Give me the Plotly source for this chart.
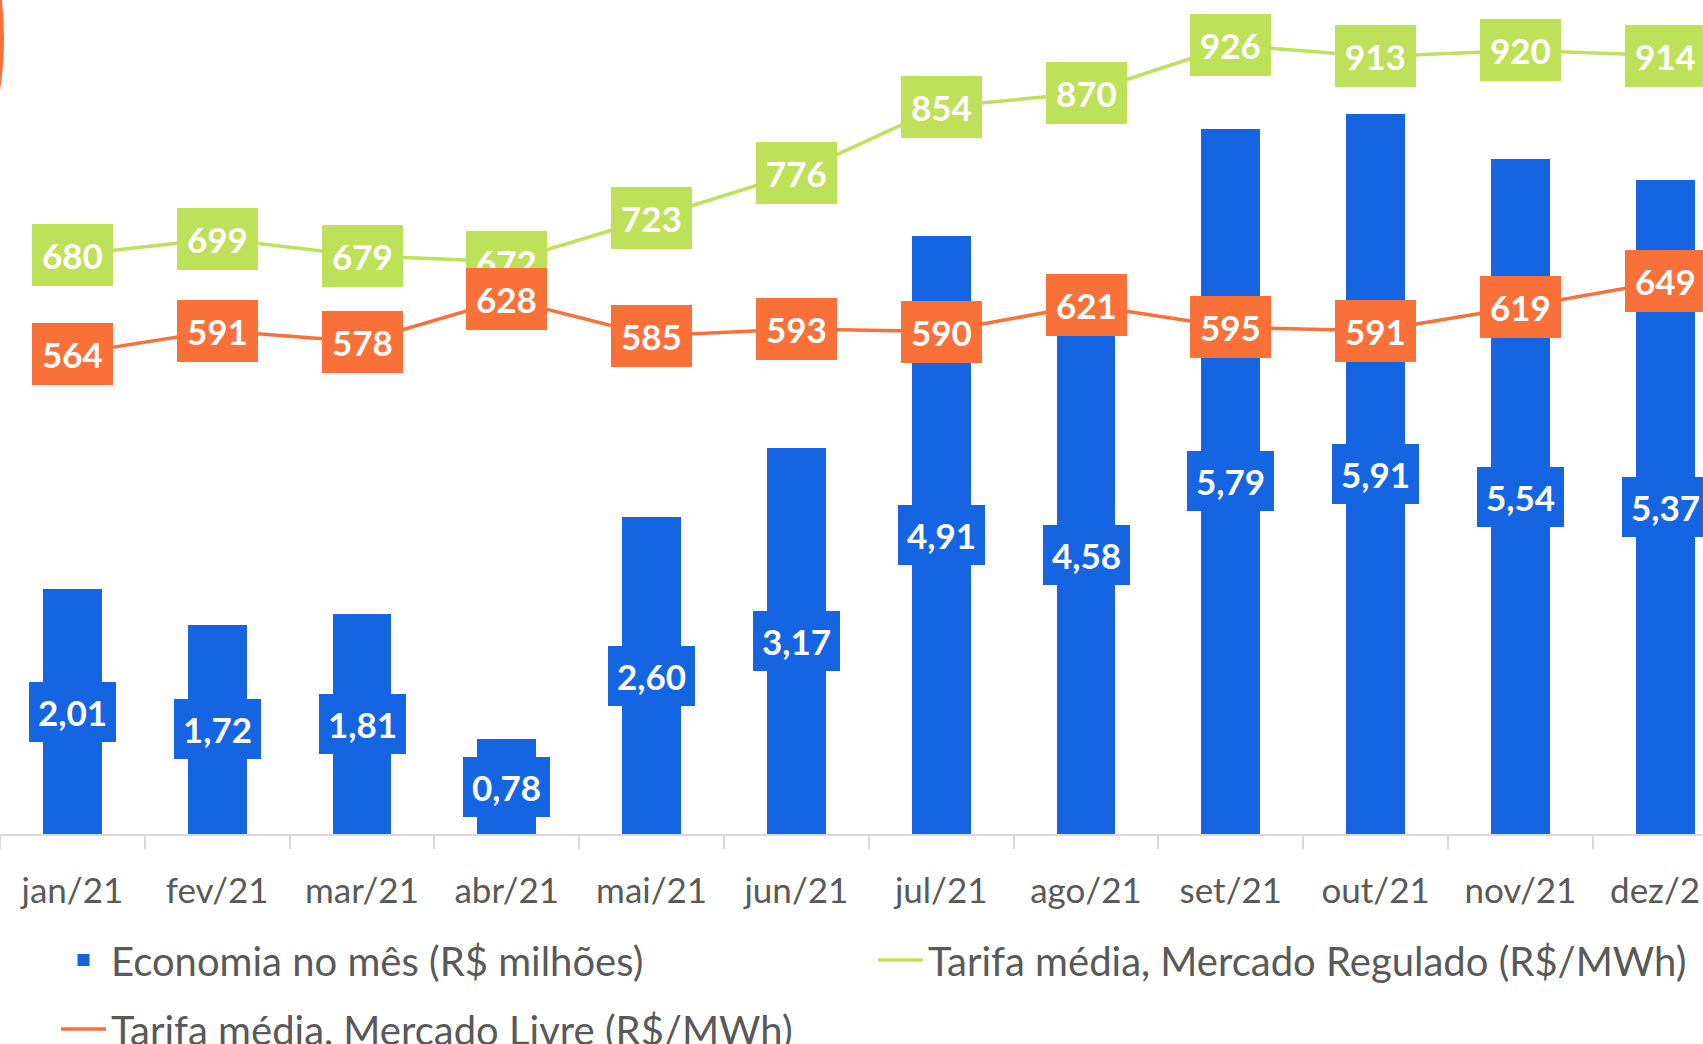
import plotly.graph_objects as go

months = ["jan/21", "fev/21", "mar/21", "abr/21", "mai/21", "jun/21",
          "jul/21", "ago/21", "set/21", "out/21", "nov/21", "dez/21"]
economia = [2.01, 1.72, 1.81, 0.78, 2.60, 3.17, 4.91, 4.58, 5.79, 5.91, 5.54, 5.37]
regulado = [680, 699, 679, 672, 723, 776, 854, 870, 926, 913, 920, 914]
livre = [564, 591, 578, 628, 585, 593, 590, 621, 595, 591, 619, 649]

BLUE = "#1565E3"
GREEN = "#BDE25A"
ORANGE = "#F97038"
GRAY = "#595959"
W, H = 1703, 1044
PLOT_H = 834
CAT_W = 144.8

fig = go.Figure()
fig.add_trace(go.Bar(
    x=months, y=economia, name="Economia no mês (R$ milhões)",
    marker=dict(color=BLUE, line=dict(width=0)), width=0.405,
    yaxis="y", legend="legend",
))
fig.add_trace(go.Scatter(
    x=months, y=regulado, name="Tarifa média, Mercado Regulado (R$/MWh)",
    mode="lines", line=dict(color=GREEN, width=3.5), yaxis="y2", legend="legend2",
))
fig.add_trace(go.Scatter(
    x=months, y=livre, name="Tarifa média, Mercado Livre (R$/MWh)",
    mode="lines", line=dict(color=ORANGE, width=3.5), yaxis="y2", legend="legend3",
))

LABEL_FONT = dict(family="Lato, sans-serif", size=35, color="white", weight="bold")
annotations = []
for m, v in zip(months, economia):
    annotations.append(dict(
        x=m, y=v / 2, xref="x", yref="y", text=f"{v:.2f}".replace(".", ","),
        showarrow=False, bgcolor=BLUE, borderpad=9, borderwidth=0, font=LABEL_FONT,
    ))
for m, v in zip(months, regulado):
    annotations.append(dict(
        x=m, y=v, xref="x", yref="y2", text=str(v),
        showarrow=False, bgcolor=GREEN, borderpad=10, borderwidth=0, font=LABEL_FONT,
    ))
for m, v in zip(months, livre):
    annotations.append(dict(
        x=m, y=v, xref="x", yref="y2", text=str(v),
        showarrow=False, bgcolor=ORANGE, borderpad=10, borderwidth=0, font=LABEL_FONT,
    ))

legend_common = dict(
    orientation="h", xanchor="left", yanchor="middle", bgcolor="rgba(0,0,0,0)",
    font=dict(family="Lato, sans-serif", size=40, color=GRAY), itemwidth=45,
)

fig.update_layout(
    width=W, height=H,
    margin=dict(l=0, r=0, t=0, b=H - PLOT_H, pad=0, autoexpand=False),
    plot_bgcolor="white", paper_bgcolor="white",
    bargap=0, barmode="overlay",
    xaxis=dict(
        type="category", range=[-0.5, -0.5 + W / CAT_W],
        showline=True, linecolor="#D9D9D9", linewidth=1.5,
        ticks="outside", tickson="boundaries", ticklen=13, tickcolor="#D9D9D9", tickwidth=1.5,
        tickfont=dict(family="Lato, sans-serif", size=35, color=GRAY),
        ticklabelstandoff=25, showgrid=False, zeroline=False, automargin=False,
    ),
    yaxis=dict(range=[0, PLOT_H / 121.8], visible=False, showgrid=False),
    yaxis2=dict(range=[0, PLOT_H / 0.8517], overlaying="y", side="right",
                visible=False, showgrid=False),
    legend=dict(legend_common, x=56 / W, y=-(960 - PLOT_H) / PLOT_H),
    legend2=dict(legend_common, x=873 / W, y=-(960 - PLOT_H) / PLOT_H),
    legend3=dict(legend_common, x=56 / W, y=-(1029 - PLOT_H) / PLOT_H),
    annotations=annotations,
    showlegend=True,
    shapes=[dict(
        type="circle", xref="paper", yref="paper",
        x0=-672 / W, x1=2 / W,
        y0=(PLOT_H - 38 - 337) / PLOT_H, y1=(PLOT_H - 38 + 337) / PLOT_H,
        line=dict(color=ORANGE, width=4),
    )],
)

fig.write_html("out.html", config={"displayModeBar": False},
               post_script="document.body.style.margin='0';")
